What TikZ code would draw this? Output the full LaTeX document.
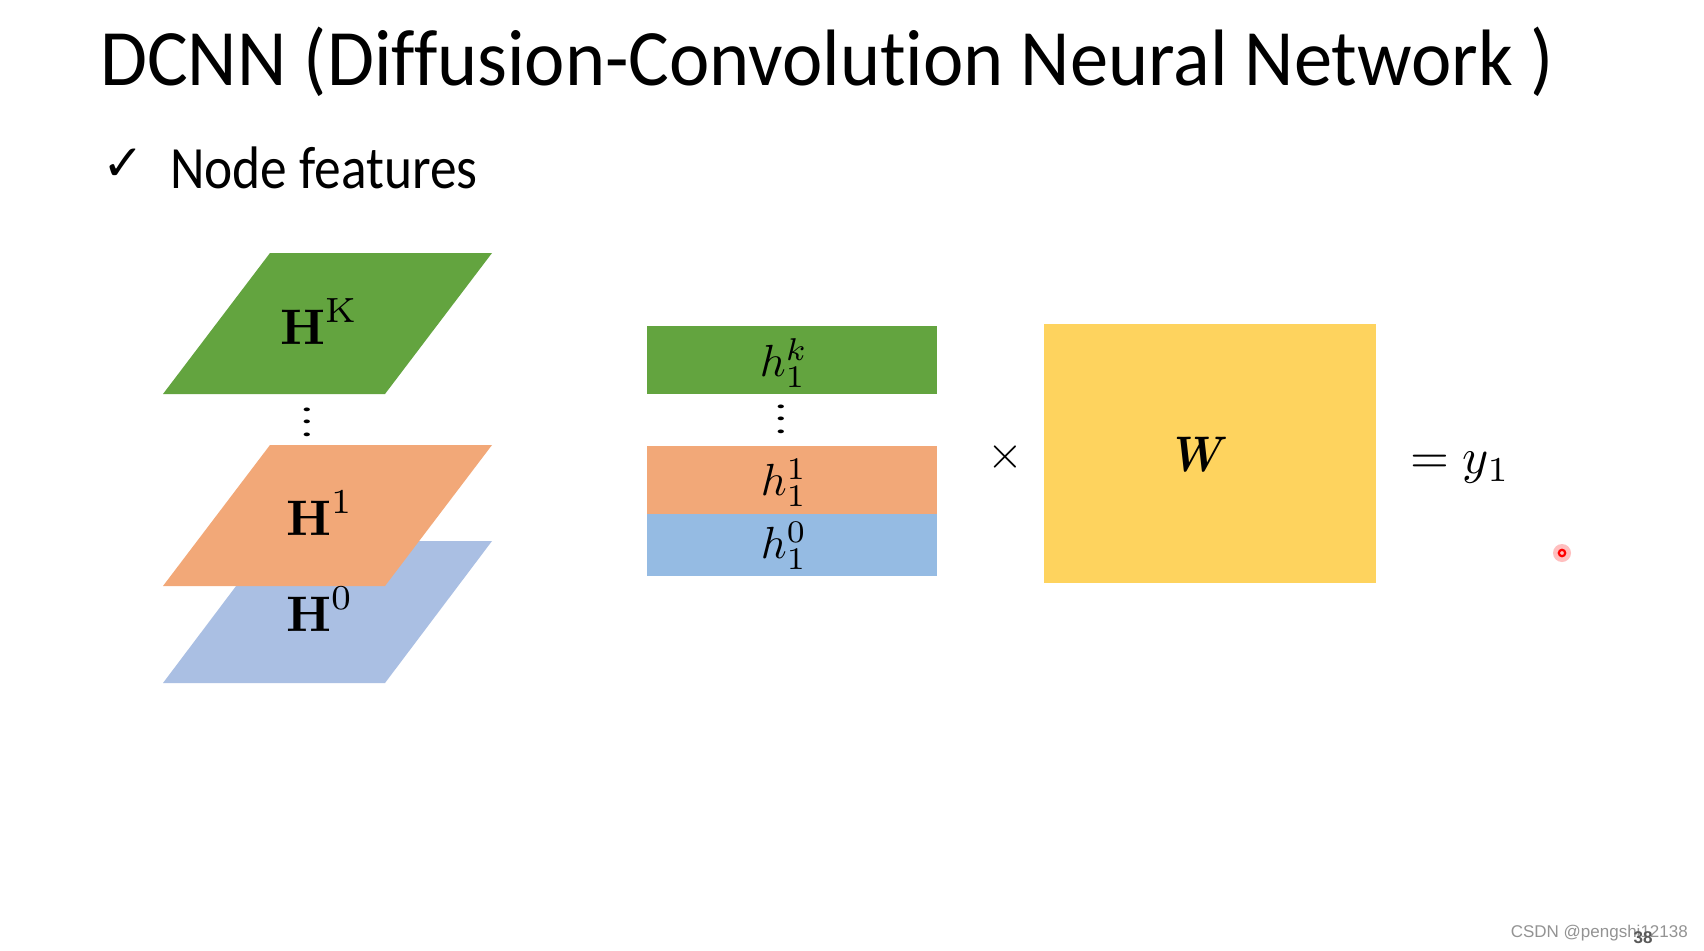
\documentclass[tikz,border=0pt]{standalone}
\usepackage{fontspec}
\usepackage{amsmath}
\usepackage{graphicx}
\setmainfont{Carlito}[Ligatures={NoCommon}]
\newfontfamily\symfont{DejaVu Sans}
\newfontfamily\wmfont{Liberation Sans}
\newfontfamily\lmr{Latin Modern Roman}
\definecolor{cgreen}{HTML}{63A43F}
\definecolor{corange}{HTML}{F2A878}
\definecolor{cblueP}{HTML}{AABFE3}
\definecolor{cblueB}{HTML}{95BBE3}
\definecolor{cyellow}{HTML}{FED35E}
\newcommand{\Hlab}[1]{$\text{\lmr\bfseries H}^{\text{\lmr #1}}$}
\begin{document}
\begin{tikzpicture}[x=1pt,y=-1pt,
  lab/.style={inner sep=0pt},
  dots/.style={inner sep=0pt}]
\useasboundingbox (0,0) rectangle (1704,950);
\fill[white] (0,0) rectangle (1704,950);
% title
\node[anchor=base west,inner sep=0pt,font=\fontsize{80}{90}\selectfont] (title) at (100,85) {\scalebox{0.955}[1]{DCNN (Diffusion-Convolution Neural Network )}};
\node[anchor=base west,inner sep=0pt,font=\symfont\fontsize{50}{58}\selectfont] (check) at (102,180) {✓};
\node[anchor=base west,inner sep=0pt,font=\fontsize{60}{66}\selectfont] (nf) at (170,188) {\scalebox{0.89}[1]{Node features}};
% parallelograms
\fill[cblueP] (270,541) -- (492,541) -- (385,683) -- (163,683) -- cycle;
\fill[corange] (270,445) -- (492,445) -- (385,586) -- (163,586) -- cycle;
\fill[cgreen] (270,253) -- (492,253) -- (385,394) -- (163,394) -- cycle;
\node[lab] (HK) at (320,322) {\scalebox{5.0}{\Hlab{K}}};
\node[lab] (H1) at (320,513) {\scalebox{5.0}{\Hlab{1}}};
\node[lab] (H0) at (320,609) {\scalebox{5.0}{\Hlab{0}}};
\node[dots] (d1) at (307,413) {\scalebox{5.2}[3.1]{\boldmath$\vdots$}};
% bars
\fill[cgreen] (647,326) rectangle (937,394);
\fill[corange] (647,446) rectangle (937,514);
\fill[cblueB] (647,514) rectangle (937,576);
\node[lab] (hk) at (784,363) {\scalebox{4.5}{$h_1^k$}};
\node[lab] (h1) at (784,483) {\scalebox{4.5}{$h_1^1$}};
\node[lab] (h0) at (784,546) {\scalebox{4.5}{$h_1^0$}};
\node[dots] (d2) at (781,410) {\scalebox{5.2}[3.1]{\boldmath$\vdots$}};
% times and W
\node[inner sep=0pt] (times) at (1005,457) {\scalebox{4.6}{$\times$}};
\fill[cyellow] (1044,324) rectangle (1376,583);
\node[inner sep=0pt] (W) at (1201,454) {\scalebox{4.3}[5.0]{$\boldsymbol{W}$}};
\node[anchor=west,inner sep=0pt] (eq) at (1410,468) {\scalebox{5.0}{$= y_1$}};
% red pointer
\fill[red!25] (1562,553) circle (9);
\draw[red,line width=2.2pt] (1562,553) circle (3.2);
% watermark
\node[anchor=base east,inner sep=0pt,font=\wmfont\fontsize{17}{20}\selectfont,text=gray!85] (wm) at (1688,937) {CSDN @pengshi12138};
\node[anchor=base,inner sep=0pt,font=\wmfont\bfseries\fontsize{17}{20}\selectfont,text=black!65] (pg) at (1643,943) {38};
\end{tikzpicture}
\end{document}
